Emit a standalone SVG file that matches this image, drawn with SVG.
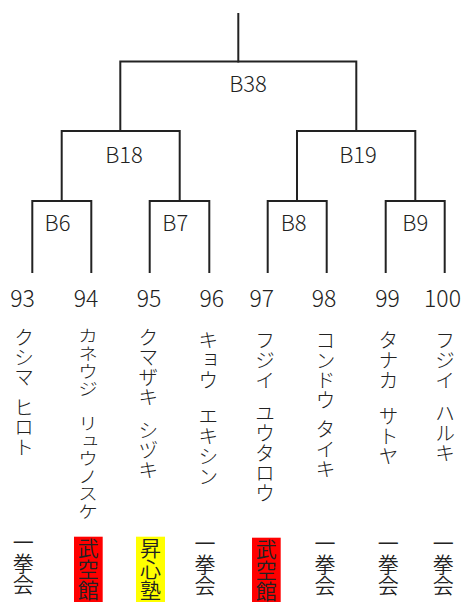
<svg xmlns="http://www.w3.org/2000/svg" width="461" height="602" viewBox="0 0 461 602">
<style>
.ln{fill:none;stroke:#222;stroke-width:2;stroke-linecap:square}
.lbl{font-family:"Noto Sans CJK JP","Noto Sans",sans-serif;font-weight:300;font-size:22px;fill:#222;text-anchor:middle}
.num{font-family:"Noto Sans CJK JP","Noto Sans",sans-serif;font-weight:300;font-size:23px;fill:#222;text-anchor:middle}
.nm{font-family:"Noto Sans CJK JP",sans-serif;font-weight:300;font-size:20px;fill:#222;writing-mode:vertical-rl}
.dj{font-family:"Noto Sans CJK JP",sans-serif;font-weight:350;font-size:21px;fill:#222;writing-mode:vertical-rl}
.red{fill:#ff0000}
.yel{fill:#ffff00}
</style>
<rect width="461" height="602" fill="#fff"/>
<g id="connectors">
<path class="ln" d="M238.3 14V61.5"/>
<path class="ln" d="M120.3 131V61.5H356.3V131"/>
<path class="ln" d="M61.7 201V131H179.7V201"/>
<path class="ln" d="M297 201V131H415.3V201"/>
<path class="ln" d="M32.3 272V201H91.3V272"/>
<path class="ln" d="M149.7 272V201H209.3V272"/>
<path class="ln" d="M267.7 272V201H326.7V272"/>
<path class="ln" d="M385.7 272V201H444.7V272"/>
</g>
<g id="B38"><text class="lbl" x="248" y="92.3">B38</text></g>
<g id="B18"><text class="lbl" x="124" y="163.3">B18</text></g>
<g id="B19"><text class="lbl" x="358" y="163.3">B19</text></g>
<g id="B6"><text class="lbl" x="57.5" y="231">B6</text></g>
<g id="B7"><text class="lbl" x="175.3" y="231">B7</text></g>
<g id="B8"><text class="lbl" x="293.7" y="231">B8</text></g>
<g id="B9"><text class="lbl" x="415.3" y="231">B9</text></g>
<g id="e93">
<text class="num" x="22.5" y="306.7">93</text>
<text class="nm" x="24" y="327">クシマ <tspan y="398">ヒロト</tspan></text>
<text class="dj" x="23.3" y="532">一拳会</text>
</g>
<g id="e94">
<text class="num" x="86" y="306.7">94</text>
<text class="nm" transform="translate(88 327) scale(1 0.88)" x="0" y="0">カネウジ <tspan y="100">リュウノスケ</tspan></text>
<rect class="red" x="74" y="536.7" width="28.7" height="66"/>
<text class="dj" x="88.3" y="537.5">武空館</text>
</g>
<g id="e95">
<text class="num" x="149" y="306.7">95</text>
<text class="nm" x="148.3" y="327">クマザキ <tspan y="421">シヅキ</tspan></text>
<rect class="yel" x="136" y="536.7" width="29" height="66"/>
<text class="dj" x="150.5" y="537.5">昇心塾</text>
</g>
<g id="e96">
<text class="num" x="211.7" y="306.7">96</text>
<text class="nm" x="208.3" y="330">キョウ <tspan y="407">エキシン</tspan></text>
<text class="dj" x="205" y="532.5">一拳会</text>
</g>
<g id="e97">
<text class="num" x="261.7" y="306.7">97</text>
<text class="nm" x="265" y="330">フジイ <tspan y="404">ユウタロウ</tspan></text>
<rect class="red" x="252" y="537.7" width="28.7" height="66"/>
<text class="dj" x="266.3" y="538.5">武空館</text>
</g>
<g id="e98">
<text class="num" x="324" y="306.7">98</text>
<text class="nm" x="325.5" y="330">コンドウ <tspan y="420">タイキ</tspan></text>
<text class="dj" x="325" y="532.5">一拳会</text>
</g>
<g id="e99">
<text class="num" x="387.5" y="306.7">99</text>
<text class="nm" x="388.5" y="330">タナカ <tspan y="407">サトヤ</tspan></text>
<text class="dj" x="388.3" y="532.5">一拳会</text>
</g>
<g id="e100">
<text class="num" x="442.5" y="306.7">100</text>
<text class="nm" x="445" y="330">フジイ <tspan y="404">ハルキ</tspan></text>
<text class="dj" x="443.3" y="532.5">一拳会</text>
</g>
</svg>
